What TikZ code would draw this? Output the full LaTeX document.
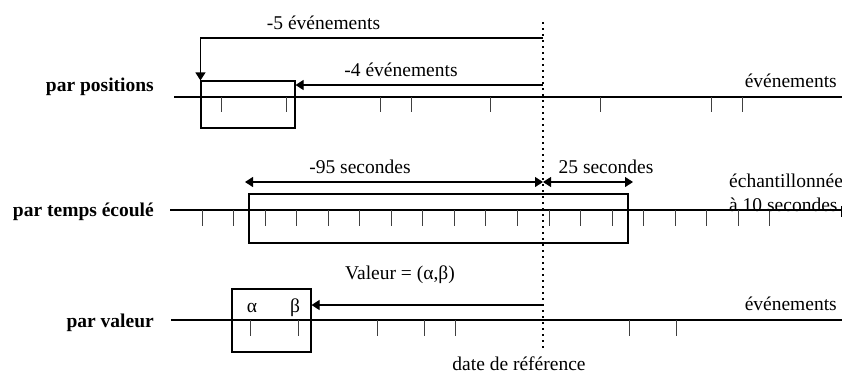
\documentclass[tikz,border=0pt]{standalone}
\usepackage{fontspec}
\setmainfont{Liberation Serif}
\usetikzlibrary{arrows.meta}
\tikzset{
  ln/.style={line width=1.1pt, draw=black},
  tk/.style={line width=1pt, draw=black!75},
  box/.style={ln, rectangle, inner sep=0pt, fill=none},
  arr/.style={ln, -{Triangle[length=8pt,width=10pt]}},
  arrb/.style={ln, {Triangle[length=8pt,width=10pt]}-{Triangle[length=8pt,width=10pt]}},
  refline/.style={line width=2.2pt, dash pattern=on 2.4pt off 3.6pt},
  txt/.style={inner sep=0pt, font=\fontsize{19.5}{22}\selectfont},
  lab/.style={txt, font=\fontsize{19.5}{22}\selectfont\bfseries, anchor=base east}
}
\begin{document}
\begin{tikzpicture}[x=1pt,y=-1pt]
\useasboundingbox (0,0) rectangle (842,376);
% left labels
\node[lab] (lab1) at (154,91) {par positions};
\node[lab] (lab2) at (154,216) {par temps écoulé};
\node[lab] (lab3) at (154,327) {par valeur};
% axes
\coordinate (a1s) at (174,97);  \coordinate (a1e) at (842,97);
\coordinate (a2s) at (170,210); \coordinate (a2e) at (842,210);
\coordinate (a3s) at (171,320); \coordinate (a3e) at (842,320);
\draw[ln] (a1s) -- (a1e);
\draw[ln] (a2s) -- (a2e);
\draw[ln] (a3s) -- (a3e);
% ticks
\foreach \x in {221,286,380,411,490,600,711,742} \draw[tk] (\x,97) -- (\x,112);
\foreach \i in {0,...,18} \draw[tk] ({202+31.55*\i},210) -- ({202+31.55*\i},226);
\foreach \x in {250,298,377,424,455,629,676} \draw[tk] (\x,320) -- (\x,336);
\draw[ln] (841.5,206) -- (841.5,217);
% boxes
\node[box, minimum width=94pt, minimum height=47pt] (box1) at (248,104.5) {};
\node[box, minimum width=379pt, minimum height=49pt] (box2) at (438.5,218.5) {};
\node[box, minimum width=79pt, minimum height=63pt] (box3) at (271.5,320.5) {};
% reference line
\coordinate (reftop) at (543,22);
\coordinate (refbot) at (543,350);
\draw[refline] (reftop) -- (refbot);
\node[txt, anchor=base] (date) at (519,370.5) {date de référence};
% row 1 arrows
\coordinate (r5) at (543,38);
\coordinate (r4) at (543,85);
\draw[arr] (r5) -| (box1.north west);
\draw[arr] (r4) -- (r4 -| box1.east);
\node[txt, anchor=base] (t5) at (323.5,29) {-5 événements};
\node[txt, anchor=base] (t4) at (401,76) {-4 événements};
\node[txt, anchor=base east] (ev1) at (837,87) {événements};
% row 2 arrows
\coordinate (r95) at (543,182);
\coordinate (l95) at (245,182);
\coordinate (r25) at (633,182);
\draw[arrb] (l95) -- (r95);
\draw[arrb] (r95) -- (r25);
\node[txt, anchor=base] (t95) at (360,173) {-95 secondes};
\node[txt, anchor=base] (t25) at (606,173) {25 secondes};
\node[txt, anchor=base west] (ech) at (729,187) {échantillonnée};
\node[txt, anchor=base west] (dix) at (729,211) {à 10 secondes};
% row 3
\coordinate (rv) at (543,305);
\draw[arr] (rv) -- (rv -| box3.east);
\node[txt, anchor=base west] (val) at (345,279) {Valeur = (α,β)};
\node[txt, anchor=base] (alpha) at (252,312) {α};
\node[txt, anchor=base] (beta) at (295,312) {β};
\node[txt, anchor=base east] (ev3) at (837,310) {événements};
\end{tikzpicture}
\end{document}
